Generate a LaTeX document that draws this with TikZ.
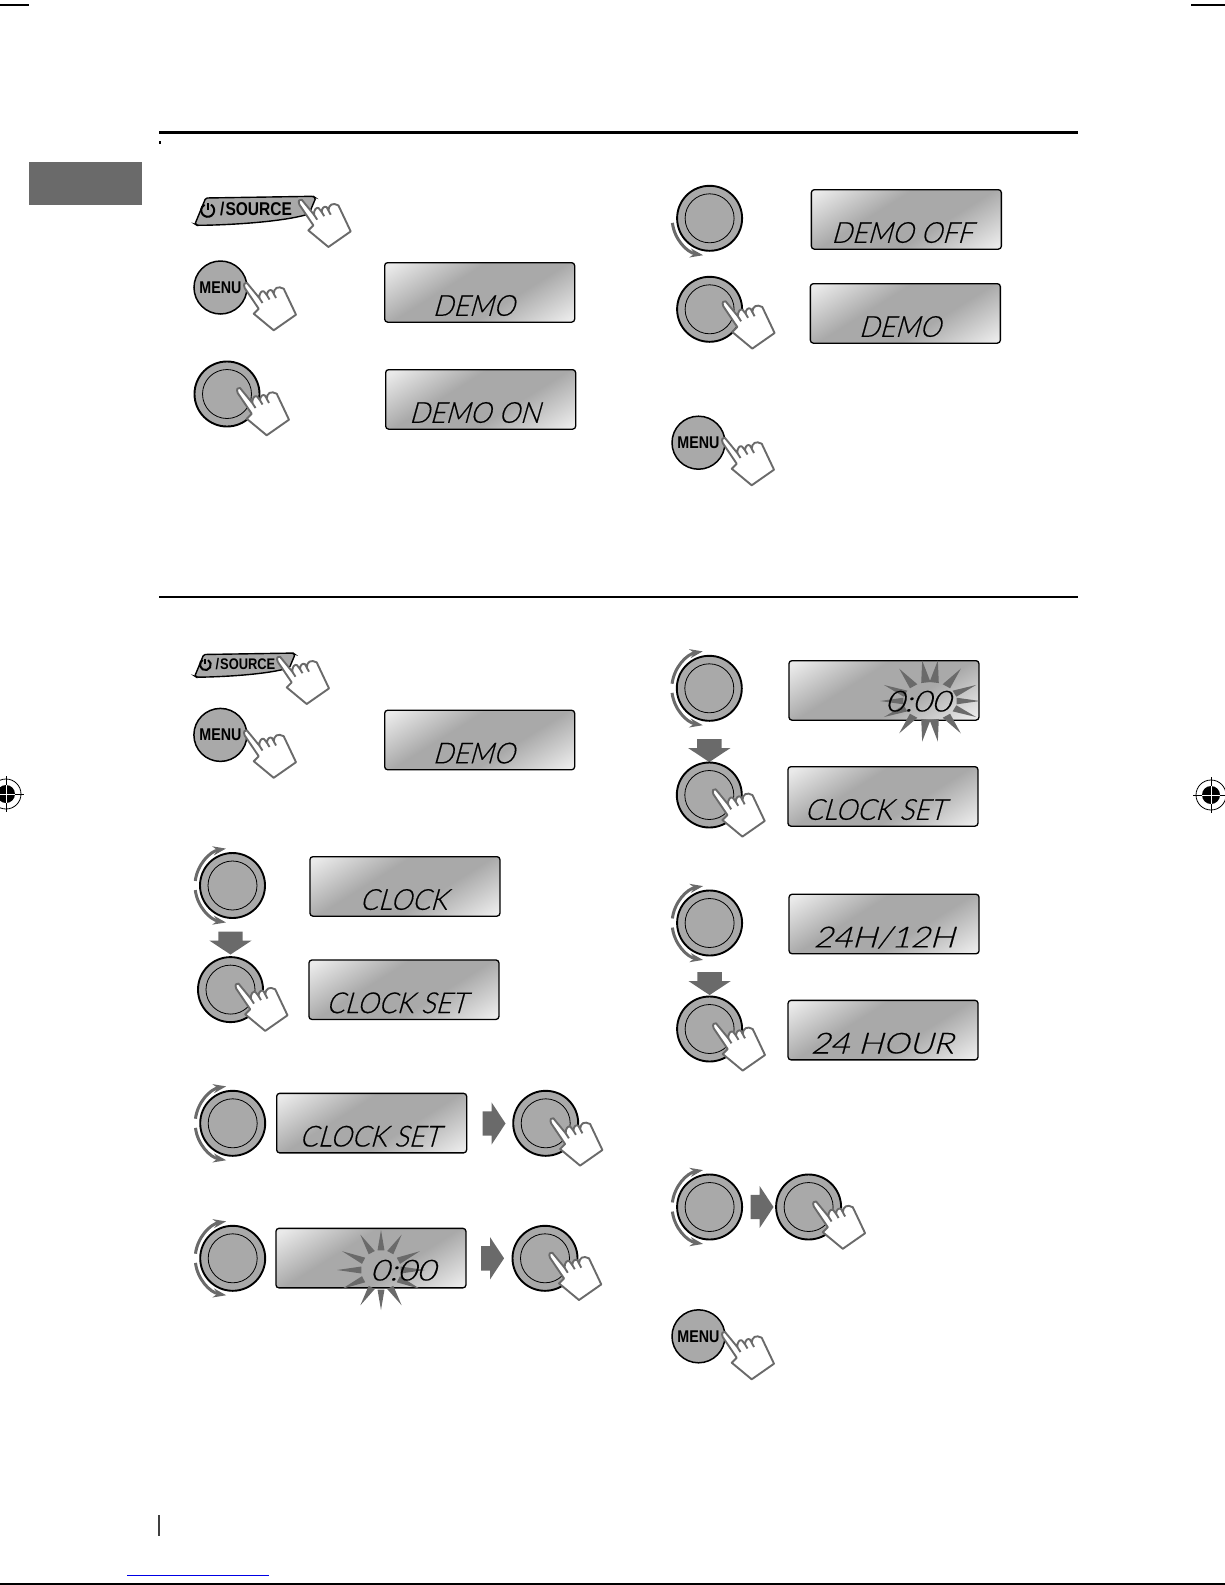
\documentclass[tikz,border=0pt]{standalone}
\usepackage{fontspec}
\usetikzlibrary{arrows.meta,shapes.arrows,calc}
\newfontfamily\lcdfont[FakeSlant=0.28,FakeStretch=0.93,FakeBold=0.4]{Lato Light}
\newfontfamily\lcdwide[FakeSlant=0.28,FakeStretch=1.14,FakeBold=0.4]{Lato Light}
\newfontfamily\btnfont[FakeStretch=0.84]{Liberation Sans}
\definecolor{dial}{HTML}{A9A9A9}
\definecolor{ink}{HTML}{6A6A6A}
\definecolor{lcdlight}{HTML}{EAEAEA}
\pgfdeclareverticalshading{lcdgrad}{100bp}{color(0bp)=(lcdlight); color(18bp)=(lcdlight); color(40bp)=(dial); color(60bp)=(dial); color(82bp)=(lcdlight); color(100bp)=(lcdlight)}
\tikzset{
  knob/.style={circle,draw=black,line width=1.9pt,fill=dial,inner sep=0pt,minimum size=65pt},
  knobring/.style={circle,draw=black,line width=.8pt,inner sep=0pt,minimum size=49pt},
  menubtn/.style={circle,draw=black,line width=1.5pt,fill=dial,inner sep=0pt,minimum size=53pt,
    text=black,font=\btnfont\bfseries\fontsize{17}{17}\selectfont},
  lcd/.style={rectangle,rounded corners=3pt,draw=black,line width=1.3pt,anchor=north west,inner sep=0pt,
    minimum width=190pt,minimum height=59.5pt,shading=lcdgrad,shading angle=32},
  lcdtext/.style={anchor=base,inner sep=0pt,font=\lcdfont\fontsize{29}{29}\selectfont,text=black},
  spin/.style={draw=ink,line width=3pt,-{Stealth[length=13pt,width=9pt]}},
  flow/.style={single arrow,fill=ink,inner sep=0pt,minimum height=23pt,
    single arrow head extend=9pt,single arrow tip angle=113},
  hand/.pic={
    \draw[draw=ink,line width=1.9pt,fill=white,line join=round]
      (0,0) -- (12.3,15) .. controls (12,10) and (15,7) .. (17,8.5) -- (20,12.3)
      .. controls (20,8) and (23,6) .. (25,7.5) -- (26.7,10.7)
      .. controls (27,5) and (31,2.5) .. (36.7,5.7) -- (49,31.7) -- (26.7,47.3) -- (6.7,30.7) -- (11.7,25.7)
      -- (-2.3,5) .. controls (-4,1) and (-2,-1) .. (0,0) -- cycle;
    \draw[draw=ink,line width=1.9pt] (12.3,15) -- (15.5,20) (20,12.3) -- (22.5,16.5) (26.7,10.7) -- (29,15);
  }
}
\newcommand{\dial}[3]{\node[knob] (#1) at (#2,#3) {}; \node[knobring] (#1r) at (#2,#3) {};}
\newcommand{\turnup}[1]{\draw[spin] (#1) ++(-173:37.5) arc[start angle=-173,end angle=-100,radius=37.5];}
\newcommand{\turndown}[1]{\draw[spin] (#1) ++(173:37.5) arc[start angle=173,end angle=100,radius=37.5];}
\newcommand{\press}[5]{\dial{#1}{#2}{#3} \pic at (#2+#4,#3+#5) {hand};}
\newcommand{\lcdbox}[5]{\node[lcd] (#1) at (#2,#3) {}; \node[lcdtext] (#1t) at ([yshift=7pt,xshift=#5pt]#1.south) {#4};}
\newcommand{\burst}[7]{\foreach \a in {#7} {
    \fill[ink] ($(#1,#2)+(\a-10:#3 and #4)$) -- ($(#1,#2)+(\a:#5 and #6)$) -- ($(#1,#2)+(\a+10:#3 and #4)$) -- cycle;}}
\newcommand{\srcbtn}[4]{\begin{scope}[shift={(#2,#3)},scale=#4]
    \draw[black,line width=1.4pt,fill=dial,rounded corners=1.5pt] (1,29) -- (11.7,3) -- (119.3,1.3) -- (121.7,3) -- (115,19)
      .. controls (84,28) and (24,30.3) .. (3,30.3) -- cycle;
    \draw[black,line width=2pt] (13.7,15.3) ++(-60:6.5) arc[start angle=-60,end angle=240,radius=6.5];
    \draw[black,line width=2pt] (13.7,8) -- (13.7,15);
    \node[anchor=base west,inner sep=0pt,transform shape,font=\btnfont\bfseries\fontsize{18.5}{18.5}\selectfont] (#1) at (26,20.5) {/\hspace{1pt}SOURCE};
  \end{scope}}
\newcommand{\regmark}[3]{\draw[black,line width=.8pt] (#2,#3) circle[radius=15];
  \node[circle,fill=black,inner sep=0pt,minimum size=18pt] (#1) at (#2,#3) {};
  \draw[black,line width=.9pt] (#2-18,#3) -- (#2+18,#3) (#2,#3-18) -- (#2,#3+18);
  \draw[white,line width=.9pt] (#2-9,#3) -- (#2+9,#3) (#2,#3-9) -- (#2,#3+9);}
\newcommand{\flowbody}{\rule{0pt}{24pt}}
\begin{document}
\begin{tikzpicture}[x=1pt,y=-1pt]
  \useasboundingbox (0,0) rectangle (1225,1585);
  % page furniture
  \draw[black,line width=1.3pt] (0,5) -- (29,5) (1191,5) -- (1225,5);
  \fill[ink] (29,162) rectangle (142,205);
  \draw[black,line width=2.6pt] (159,132.5) -- (1078,132.5) (159,597) -- (1078,597);
  \fill[black] (159,141) rectangle (160.5,144);
  \draw[black!75,line width=1.8pt] (159,1515) -- (159,1536);
  \draw[blue!90!black,line width=1pt] (127,1575.5) -- (269,1575.5);
  \draw[black,line width=1.5pt] (0,1584.2) -- (1225,1584.2);
  \regmark{regl}{6}{794}
  \regmark{regr}{1211}{795}
  % demo, left column
  \srcbtn{srca}{194}{195}{1}
  \pic at (301.7,199.7) {hand};
  \node[menubtn] (menua) at (220.5,287.5) {MENU};
  \pic at (247,283) {hand};
  \lcdbox{lcda}{384}{262}{DEMO}{-6}
  \press{kna}{227}{394}{13}{-6}
  \lcdbox{lcdb}{385}{369}{DEMO ON}{-6}
  % demo, right column
  \dial{knb}{709.6}{218.3}
  \turndown{knb}
  \lcdbox{lcdc}{810.7}{189}{DEMO OFF}{-4.5}
  \press{knc}{709.6}{309.3}{16}{-8}
  \lcdbox{lcdd}{809.7}{283}{DEMO}{-5.5}
  \node[menubtn] (menub) at (698.5,442.7) {MENU};
  \pic at (725,438) {hand};
  % clock, left column
  \srcbtn{srcb}{194}{652}{.83}
  \pic at (280,656.7) {hand};
  \node[menubtn] (menuc) at (220.4,734.9) {MENU};
  \pic at (247,730.5) {hand};
  \lcdbox{lcde}{384}{709.6}{DEMO}{-6}
  \dial{knd}{232.5}{885.5}
  \turnup{knd} \turndown{knd}
  \lcdbox{lcdf}{309.3}{856}{CLOCK}{-1.5}
  \node[flow,rotate=-90] (arra) at (230.5,939) {\flowbody};
  \press{kne}{230.5}{989.6}{8}{-6}
  \lcdbox{lcdg}{308.3}{959.3}{CLOCK SET}{-7.5}
  \dial{knf}{232.7}{1123.3}
  \turnup{knf} \turndown{knf}
  \lcdbox{lcdh}{276}{1092.7}{CLOCK SET}{-2}
  \node[flow] (arrb) at (490,1123.5) {\flowbody};
  \press{kng}{545.7}{1123.3}{7.7}{-5}
  \dial{knh}{232.7}{1258.3}
  \turnup{knh} \turndown{knh}
  \node[lcd] (lcdi) at (275.3,1227.7) {};
  \burst{381}{1270}{20}{20}{44}{40}{0,28,62,90,118,152,180,208,242,270,298,332}
  \node[lcdtext] (lcdit) at (403,1280.5) {\lcdwide 0:00};
  \node[flow] (arrc) at (488.5,1258.3) {\flowbody};
  \press{kni}{545}{1258.3}{7.3}{-5.6}
  % clock, right column
  \dial{knj}{709.3}{688.3}
  \turnup{knj} \turndown{knj}
  \node[lcd] (lcdj) at (788.3,660) {};
  \burst{930}{701}{27}{19}{50}{41}{0,23,52,81,99,128,157,180,203,232,261,279,308,337}
  \node[lcdtext] (lcdjt) at (918,711.5) {\lcdwide 0:00};
  \node[flow,rotate=-90] (arrd) at (709.3,746.5) {\flowbody};
  \press{knk}{709.3}{795}{6.4}{-5.7}
  \lcdbox{lcdk}{787.3}{766}{CLOCK SET}{-8}
  \dial{knl}{709.6}{923}
  \turnup{knl} \turndown{knl}
  \lcdbox{lcdl}{788.4}{893.6}{\lcdwide 24H/12H}{0}
  \node[flow,rotate=-90] (arre) at (709.6,979.5) {\flowbody};
  \press{knm}{709.6}{1029}{6.4}{-5.7}
  \lcdbox{lcdm}{787.4}{999.7}{\lcdwide 24 HOUR}{-1}
  \dial{knn}{709.6}{1207}
  \turnup{knn} \turndown{knn}
  \node[flow] (arrf) at (758,1207) {\flowbody};
  \press{kno}{808.6}{1207}{7.5}{-5.5}
  \node[menubtn] (menud) at (698.5,1336.3) {MENU};
  \pic at (725,1332) {hand};
\end{tikzpicture}
\end{document}
